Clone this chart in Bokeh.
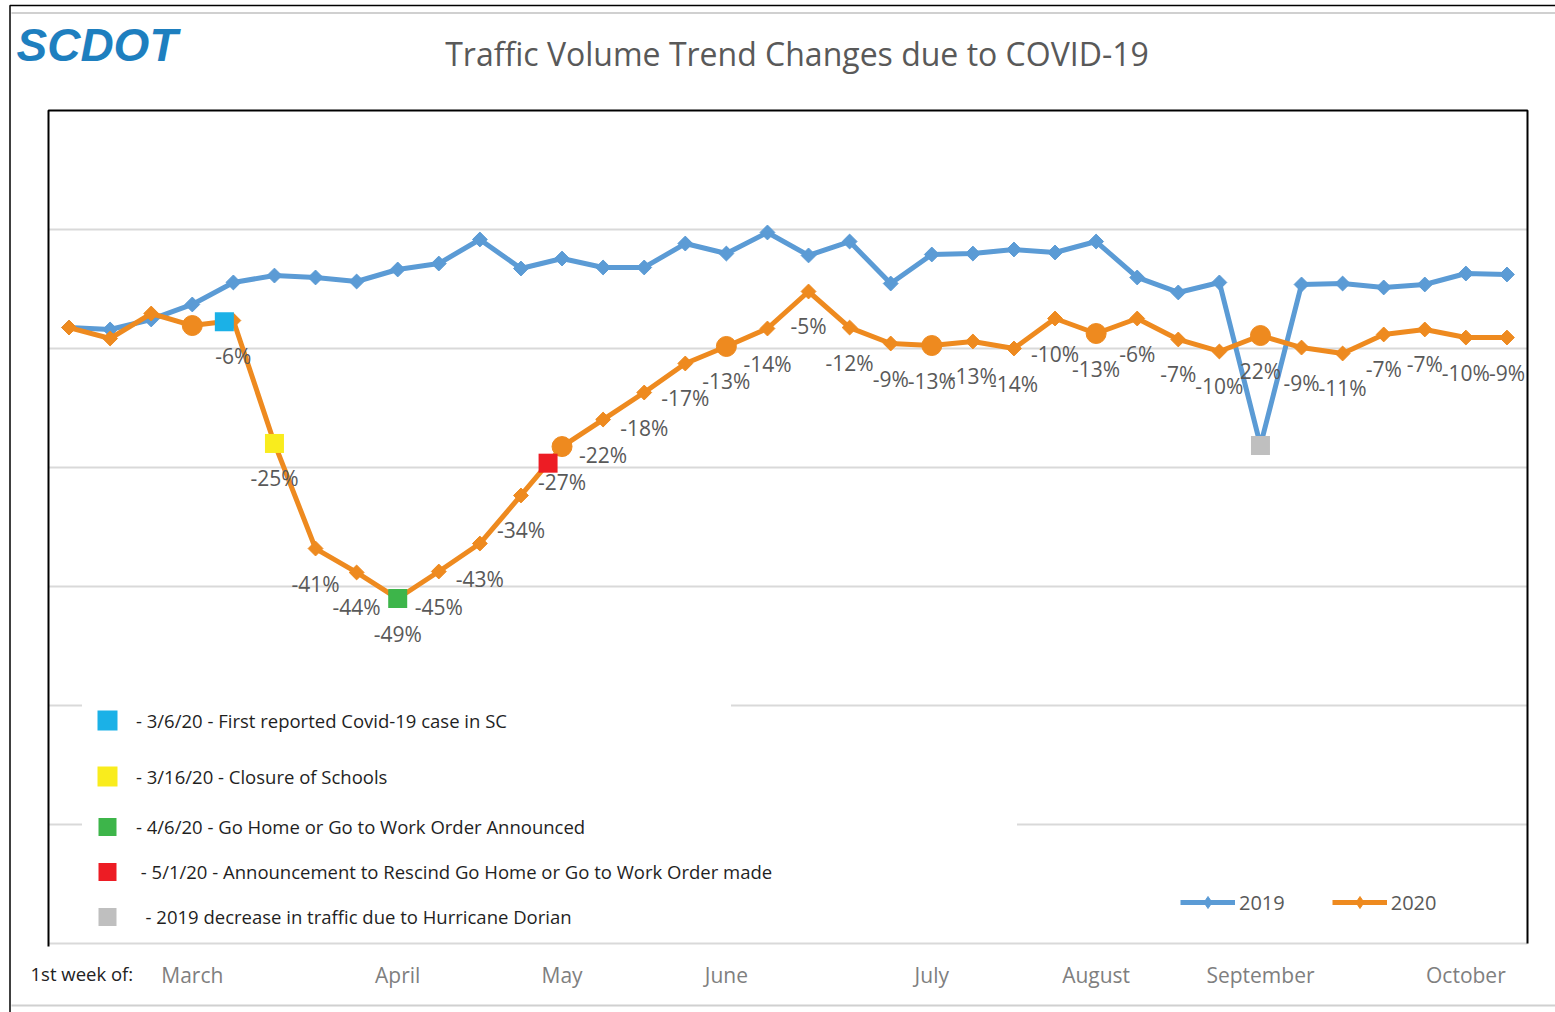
import numpy as np
from bokeh.plotting import figure
from bokeh.models import Range1d, FixedTicker, Label, Legend, LegendItem, Grid
from bokeh.core.properties import value
from bokeh.embed import file_html
from bokeh.resources import INLINE

# ---------------- data ----------------
weeks = list(range(36))  # weekly index, week 0 = 2nd week of February
vol_2019 = [517.6, 516.0, 524.4, 537.0, 555.5, 561.3, 559.7, 556.3, 566.4, 571.4,
            591.6, 567.2, 575.6, 568.1, 568.1, 588.2, 579.8, 597.5, 578.2, 589.9,
            554.6, 579.0, 579.8, 583.2, 580.7, 589.9, 559.7, 547.1, 555.5, 418.5,
            553.8, 554.6, 551.3, 553.8, 563.0, 562.2]
vol_2020 = [517.6, 508.4, 529.4, 519.3, 523.5, 420.2, 331.9, 311.8, 289.9, 312.6,
            336.1, 376.5, 417.6, 440.3, 463.0, 487.4, 501.7, 516.8, 547.9, 517.6,
            504.2, 502.5, 505.9, 500.0, 525.2, 512.6, 525.2, 507.6, 497.5, 510.9,
            500.8, 495.8, 511.8, 516.0, 509.2, 509.2]
pct_labels = ["", "", "", "", "-6%", "-25%", "-41%", "-44%", "-49%", "-45%",
              "-43%", "-34%", "-27%", "-22%", "-18%", "-17%", "-13%", "-14%", "-5%", "-12%",
              "-9%", "-13%", "-13%", "-14%", "-10%", "-13%", "-6%", "-7%", "-10%", "22%",
              "-9%", "-11%", "-7%", "-7%", "-10%", "-9%"]
month_ticks = [3, 8, 12, 16, 21, 25, 29, 34]
month_names = ["March", "April", "May", "June", "July", "August", "September", "October"]
circle_weeks = [3, 12, 16, 21, 25, 29]
grid_values = [0, 100, 200, 300, 400, 500, 600]

event_weeks = [3.78, 5.0, 8.0, 11.66]          # events placed on the 2020 line
event_colors = ["#1BB1E7", "#F9EC1D", "#3DB54A", "#ED1C24"]
event_texts = ["- 3/6/20 - First reported Covid-19 case in SC",
               "- 3/16/20 - Closure of Schools",
               "- 4/6/20 - Go Home or Go to Work Order Announced",
               " - 5/1/20 - Announcement to Rescind Go Home or Go to Work Order made",
               "  - 2019 decrease in traffic due to Hurricane Dorian"]
dorian_week = 29
dorian_color = "#BFBFBF"

title_text = "Traffic Volume Trend Changes due to COVID-19"
axis_prefix = "1st week of:"
logo_text = "SCDOT"
series_names = ["2019", "2020"]

# ---------------- layout constants ----------------
W, H = 1555, 1012
BOX_L, BOX_R, BOX_T, BOX_B = 48, 1527, 110, 943      # plot box in pixels
X0, X1 = -0.5, 35.5                                 # category extent
Y0, Y1 = 0, 700                                     # value extent
sx = (BOX_R - BOX_L) / (X1 - X0)
sy = (BOX_B - BOX_T) / (Y1 - Y0)
def px(x):  # pixel -> data x
    return X0 + (x - BOX_L) / sx
def py(y):  # pixel -> data y
    return Y0 + (BOX_B - y) / sy

BLUE = "#5B9BD5"
ORANGE = "#EE8A1F"
FONT = "Open Sans"

p = figure(width=W, height=H, x_range=Range1d(px(0), px(W)), y_range=Range1d(py(H), py(0)),
           min_border=0, output_backend="svg", toolbar_location=None,
           background_fill_color="white", border_fill_color="white", outline_line_color=None)
p.axis.visible = False
p.xgrid.visible = False
yg = p.ygrid[0]
yg.ticker = FixedTicker(ticks=grid_values)
yg.grid_line_color = "#D9D9D9"
yg.grid_line_width = 2
use_cross = "cross_bounds" in Grid.properties()
if use_cross:
    yg.cross_bounds = (X0, X1)
else:
    yg.visible = False
    p.segment(x0=X0, x1=X1, y0=grid_values, y1=grid_values, line_color="#D9D9D9",
              line_width=2, level="underlay")

# page frame lines
p.line([px(9.5), px(9.5), px(W)], [py(H), py(5), py(5)], line_color="black", line_width=1.5)
p.line([px(11), px(W)], [py(12.5), py(12.5)], line_color="#D0D0D0", line_width=2)
p.line([px(11), px(W)], [py(1005), py(1005)], line_color="#D0D0D0", line_width=2)

# plot box (black on top, left and right)
p.line([X0, X0, X1, X1], [py(946), Y1, Y1, Y0], line_color="black", line_width=2)

# series
l19 = p.line(weeks, vol_2019, line_color=BLUE, line_width=5, line_join="round")
p.scatter(weeks, vol_2019, marker="square", angle=np.pi / 4, size=10.5,
          fill_color=BLUE, line_color=BLUE)
l20 = p.line(weeks, vol_2020, line_color=ORANGE, line_width=5, line_join="round")
p.scatter(weeks, vol_2020, marker="square", angle=np.pi / 4, size=10.5,
          fill_color=ORANGE, line_color=ORANGE)
p.scatter(circle_weeks, [vol_2020[w] for w in circle_weeks], marker="circle", size=20,
          fill_color=ORANGE, line_color=ORANGE)
# legend-only diamond glyphs (a single undrawable NaN point each)
d19 = p.scatter(x=[np.nan], y=[np.nan], marker="diamond", size=12,
                fill_color=BLUE, line_color=BLUE)
d20 = p.scatter(x=[np.nan], y=[np.nan], marker="diamond", size=12,
                fill_color=ORANGE, line_color=ORANGE)

# event markers
event_y = np.interp(event_weeks, weeks, vol_2020)
event_renderers = []
for ex, ey, ec in zip(event_weeks, event_y, event_colors):
    r = p.scatter([ex], [ey], marker="square", size=19, fill_color=ec, line_color=None)
    event_renderers.append(r)
rd = p.scatter([dorian_week], [vol_2019[dorian_week]], marker="square", size=19,
               fill_color=dorian_color, line_color=None)
event_renderers.append(rd)

# percentage labels
p.text(x=weeks, y=vol_2020, text=pct_labels, y_offset=35, text_align="center",
       text_baseline="middle", text_font=value(FONT), text_font_size="21px",
       text_color="#595959")

# month labels along the category scale
p.text(x=month_ticks, y=[Y0] * len(month_ticks), text=month_names, y_offset=31,
       text_align="center", text_baseline="middle", text_font=value(FONT),
       text_font_size="21px", text_color="#7F7F7F")
p.add_layout(Label(x=px(30), y=py(973), text=axis_prefix, text_align="left",
                   text_baseline="middle", text_font=FONT, text_font_size="18.5px",
                   text_color="#222222"))

# title and logo
p.add_layout(Label(x=px(796.5), y=py(53), text=title_text, text_align="center",
                   text_baseline="middle", text_font=FONT, text_font_size="32px",
                   text_color="#595959"))
p.add_layout(Label(x=px(16), y=py(44), text=logo_text, text_align="left",
                   text_baseline="middle", text_font="Liberation Sans", text_font_size="46px",
                   text_font_style="bold italic", text_color="#1E7FBF"))

# event legends
def mk_legend(items, gh, loc, lw):
    lg = Legend(items=items, location=loc, orientation="vertical", padding=0, margin=0,
                spacing=0, glyph_width=50, glyph_height=gh, label_height=gh,
                label_width=lw, label_standoff=4, label_text_font=FONT,
                label_text_font_size="18.5px", label_text_color="#1F1F1F",
                background_fill_color="white", background_fill_alpha=1.0,
                border_line_color=None)
    p.add_layout(lg, "center")

items = [LegendItem(label=t, renderers=[r]) for t, r in zip(event_texts, event_renderers)]
mk_legend(items[:2], 56, (82, H - 804), 595)
mk_legend(items[2:], 45, (82, H - 939), 881)

# series legend
leg = Legend(items=[LegendItem(label=series_names[0], renderers=[l19, d19]),
                    LegendItem(label=series_names[1], renderers=[l20, d20])],
             location=(1180, H - 917), orientation="horizontal", padding=0, margin=0,
             spacing=47, glyph_width=55, glyph_height=30, label_height=30,
             label_standoff=4, label_text_font=FONT, label_text_font_size="20px",
             label_text_color="#595959", background_fill_alpha=0, border_line_color=None)
p.add_layout(leg, "center")

open("out.html", "w").write(file_html(p, INLINE))
